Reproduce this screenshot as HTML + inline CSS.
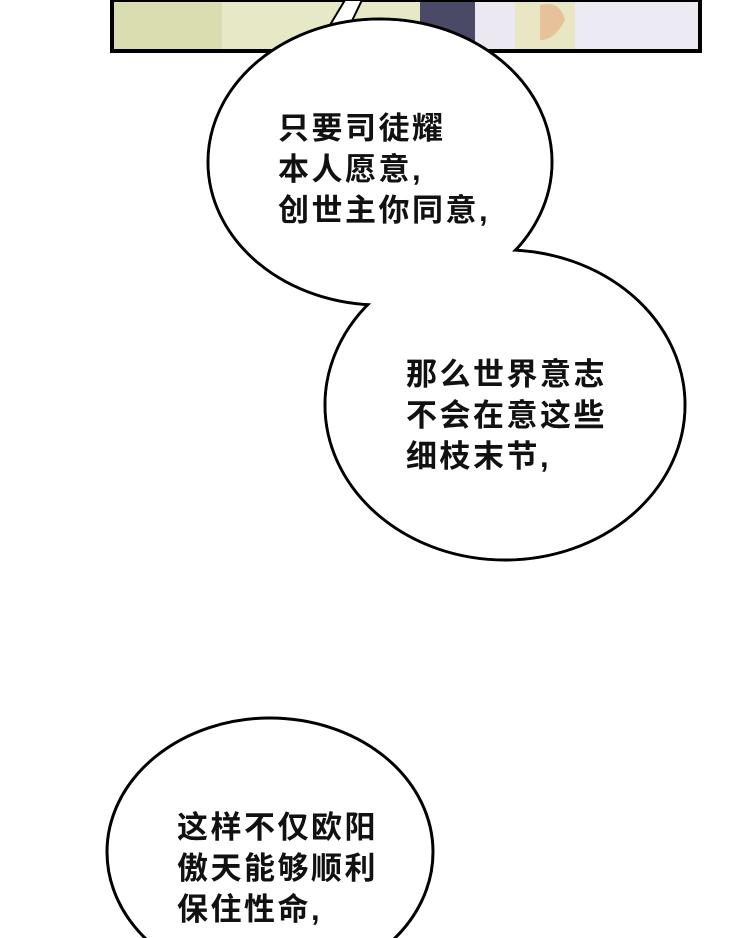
<!DOCTYPE html>
<html><head><meta charset="utf-8"><style>
html,body{margin:0;padding:0;background:#fff;}
.wrap{position:relative;width:750px;height:938px;overflow:hidden;background:#fff;}
svg{position:absolute;left:0;top:0;}
.t{position:absolute;font-family:"Liberation Sans","Noto Sans CJK SC",sans-serif;font-weight:bold;font-size:31px;line-height:41px;color:#111;white-space:nowrap;letter-spacing:2.5px;}
</style></head><body><div class="wrap">
<svg width="750" height="938" viewBox="0 0 750 938">
  <rect x="112" y="0" width="588" height="51" fill="#e6e8c6"/>
  <rect x="112" y="0" width="110" height="51" fill="#d9ddb0"/>
  <rect x="420" y="0" width="55" height="51" fill="#4b4a66"/>
  <rect x="475" y="0" width="40" height="51" fill="#ebe8f2"/>
  <rect x="515" y="0" width="60" height="51" fill="#e9e6c4"/>
  <path d="M540 5 q20 -5 25 15 q-10 20 -25 20 z" fill="#e6c199"/>
  <rect x="575" y="0" width="125" height="51" fill="#eceaf2"/>
  <rect x="112" y="0" width="588" height="51" fill="none" stroke="#000" stroke-width="4"/>
  <polygon points="330,25 345,0 362,0 350,25" fill="#fff" stroke="#000" stroke-width="2"/>
  <ellipse cx="380" cy="162" rx="172" ry="143" fill="#fff" stroke="#000" stroke-width="3"/>
  <ellipse cx="505" cy="405" rx="180" ry="155" fill="#fff" stroke="#000" stroke-width="3"/>
  <ellipse cx="380" cy="162" rx="170.5" ry="141.5" fill="#fff"/>
  <ellipse cx="505" cy="405" rx="178.5" ry="153.5" fill="#fff"/>
  <ellipse cx="270" cy="852" rx="163" ry="134" fill="#fff" stroke="#000" stroke-width="3"/>
</svg>
<div class="t" style="left:278px;top:108px;">只要司徒耀<br>本人愿意,<br>创世主你同意,</div>
<div class="t" style="left:406px;top:354px;">那么世界意志<br>不会在意这些<br>细枝末节,</div>
<div class="t" style="left:177px;top:807px;">这样不仅欧阳<br>傲天能够顺利<br>保住性命,</div>
</div></body></html>
